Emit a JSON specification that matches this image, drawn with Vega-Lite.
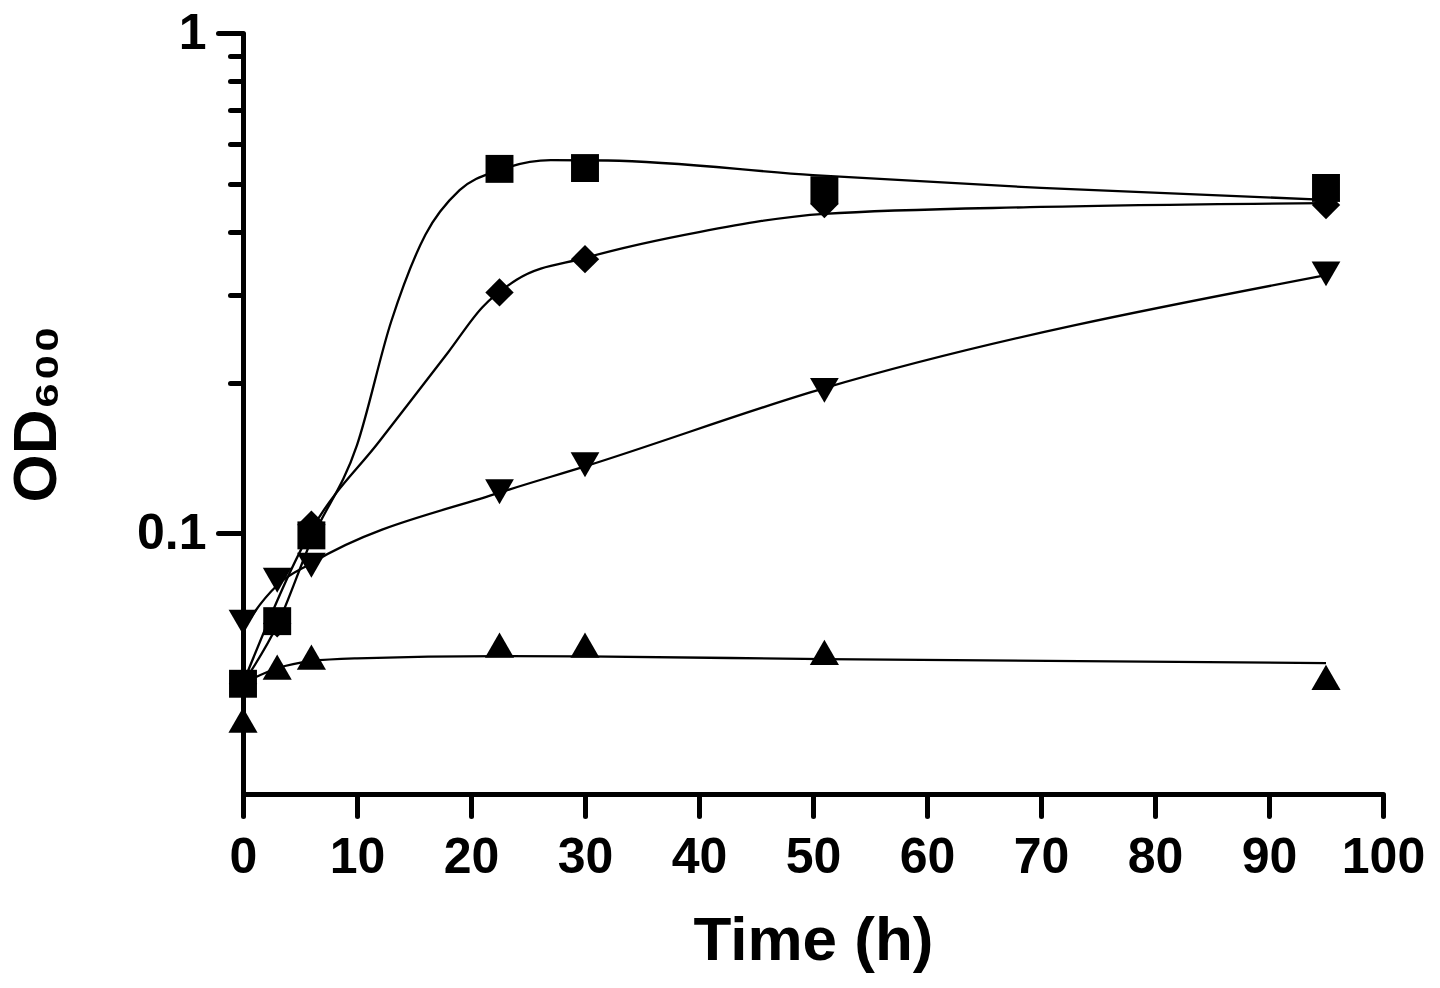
{
  "$schema": "https://vega.github.io/schema/vega-lite/v6.json",
  "width": 1140,
  "height": 761,
  "autosize": "none",
  "padding": {"left": 243, "top": 33, "right": 57, "bottom": 194},
  "background": "white",
  "config": {
    "view": {"stroke": null},
    "font": "Liberation Sans",
    "axis": {
      "grid": false,
      "domainColor": "black",
      "domainWidth": 5,
      "tickColor": "black",
      "tickWidth": 5,
      "tickCap": "round",
      "labelFont": "Liberation Sans",
      "labelFontWeight": "bold",
      "labelFontSize": 50,
      "labelColor": "black",
      "titleFont": "Liberation Sans",
      "titleFontWeight": "bold",
      "titleFontSize": 62,
      "titleColor": "black"
    }
  },
  "datasets": {
    "points": [
      {"series": "A", "time": 0, "od": 0.050},
      {"series": "A", "time": 3, "od": 0.0667},
      {"series": "A", "time": 6, "od": 0.099},
      {"series": "A", "time": 22.5, "od": 0.535},
      {"series": "A", "time": 30, "od": 0.537},
      {"series": "A", "time": 51, "od": 0.485},
      {"series": "A", "time": 95, "od": 0.49},
      {"series": "B", "time": 0, "od": 0.050},
      {"series": "B", "time": 3, "od": 0.066},
      {"series": "B", "time": 6, "od": 0.104},
      {"series": "B", "time": 22.5, "od": 0.303},
      {"series": "B", "time": 30, "od": 0.353},
      {"series": "B", "time": 51, "od": 0.455},
      {"series": "B", "time": 95, "od": 0.453},
      {"series": "C", "time": 0, "od": 0.0664},
      {"series": "C", "time": 3, "od": 0.0805},
      {"series": "C", "time": 6, "od": 0.0863},
      {"series": "C", "time": 22.5, "od": 0.121},
      {"series": "C", "time": 30, "od": 0.137},
      {"series": "C", "time": 51, "od": 0.193},
      {"series": "C", "time": 95, "od": 0.33},
      {"series": "D", "time": 0, "od": 0.0423},
      {"series": "D", "time": 3, "od": 0.054},
      {"series": "D", "time": 6, "od": 0.0565},
      {"series": "D", "time": 22.5, "od": 0.0597},
      {"series": "D", "time": 30, "od": 0.0597},
      {"series": "D", "time": 51, "od": 0.0578},
      {"series": "D", "time": 95, "od": 0.0515}
    ],
    "fits": [
      {"series": "A", "time": 0, "od": 0.0501},
      {"series": "A", "time": 3, "od": 0.0655},
      {"series": "A", "time": 6, "od": 0.0968},
      {"series": "A", "time": 10, "od": 0.15},
      {"series": "A", "time": 13, "od": 0.265},
      {"series": "A", "time": 16, "od": 0.395},
      {"series": "A", "time": 19, "od": 0.485},
      {"series": "A", "time": 22.5, "od": 0.532},
      {"series": "A", "time": 27, "od": 0.557},
      {"series": "A", "time": 32, "od": 0.556},
      {"series": "A", "time": 50, "od": 0.52},
      {"series": "A", "time": 70, "od": 0.49},
      {"series": "A", "time": 95, "od": 0.464},
      {"series": "B", "time": 0, "od": 0.0501},
      {"series": "B", "time": 6, "od": 0.1014},
      {"series": "B", "time": 12, "od": 0.153},
      {"series": "B", "time": 18, "od": 0.23},
      {"series": "B", "time": 21, "od": 0.283},
      {"series": "B", "time": 24, "od": 0.321},
      {"series": "B", "time": 30, "od": 0.355},
      {"series": "B", "time": 40, "od": 0.40},
      {"series": "B", "time": 51, "od": 0.435},
      {"series": "B", "time": 70, "od": 0.449},
      {"series": "B", "time": 95, "od": 0.457},
      {"series": "C", "time": 0, "od": 0.064},
      {"series": "C", "time": 1, "od": 0.0695},
      {"series": "C", "time": 3, "od": 0.0787},
      {"series": "C", "time": 6, "od": 0.0871},
      {"series": "C", "time": 22.5, "od": 0.1205},
      {"series": "C", "time": 30, "od": 0.136},
      {"series": "C", "time": 51, "od": 0.195},
      {"series": "C", "time": 95, "od": 0.328},
      {"series": "D", "time": 0, "od": 0.0501},
      {"series": "D", "time": 3, "od": 0.0537},
      {"series": "D", "time": 6, "od": 0.0555},
      {"series": "D", "time": 10, "od": 0.0562},
      {"series": "D", "time": 22.5, "od": 0.0568},
      {"series": "D", "time": 30, "od": 0.0567},
      {"series": "D", "time": 51, "od": 0.056},
      {"series": "D", "time": 95, "od": 0.055}
    ]
  },
  "encoding": {
    "x": {
      "field": "time",
      "type": "quantitative",
      "scale": {"domain": [0, 100], "nice": false, "zero": false},
      "axis": {
        "title": "Time (h)",
        "values": [0, 10, 20, 30, 40, 50, 60, 70, 80, 90, 100],
        "tickSize": 22,
        "labelPadding": 16,
        "titlePadding": 28,
        "labelFlush": false,
        "labelOverlap": false
      }
    },
    "y": {
      "field": "od",
      "type": "quantitative",
      "scale": {"type": "log", "domain": [0.0301, 1], "nice": false},
      "axis": {
        "title": "OD₆₀₀",
        "values": [0.1, 0.2, 0.3, 0.4, 0.5, 0.6, 0.7, 0.8, 0.9, 1],
        "labelExpr": "datum.value == 1 ? '1' : (datum.value == 0.1 ? '0.1' : '')",
        "tickSize": {"condition": {"test": "datum.value == 1 || datum.value == 0.1", "value": 25}, "value": 13},
        "labelPadding": 12,
        "titlePadding": 68,
        "labelFlush": false,
        "labelOverlap": false
      }
    }
  },
  "layer": [
    {
      "data": {"name": "fits"},
      "mark": {"type": "line", "interpolate": "monotone", "color": "black", "strokeWidth": 2.3},
      "encoding": {"detail": {"field": "series", "type": "nominal"}}
    },
    {
      "data": {"name": "points"},
      "mark": {"type": "point", "filled": true, "color": "black", "opacity": 1, "strokeWidth": 0},
      "encoding": {
        "shape": {
          "field": "series",
          "type": "nominal",
          "scale": {"domain": ["A", "B", "C", "D"], "range": ["square", "diamond", "triangle-down", "triangle-up"]},
          "legend": null
        },
        "size": {
          "field": "series",
          "type": "nominal",
          "scale": {"domain": ["A", "B", "C", "D"], "range": [780, 850, 1000, 1000]},
          "legend": null
        },
        "order": {"field": "series", "sort": "descending"}
      }
    }
  ]
}
